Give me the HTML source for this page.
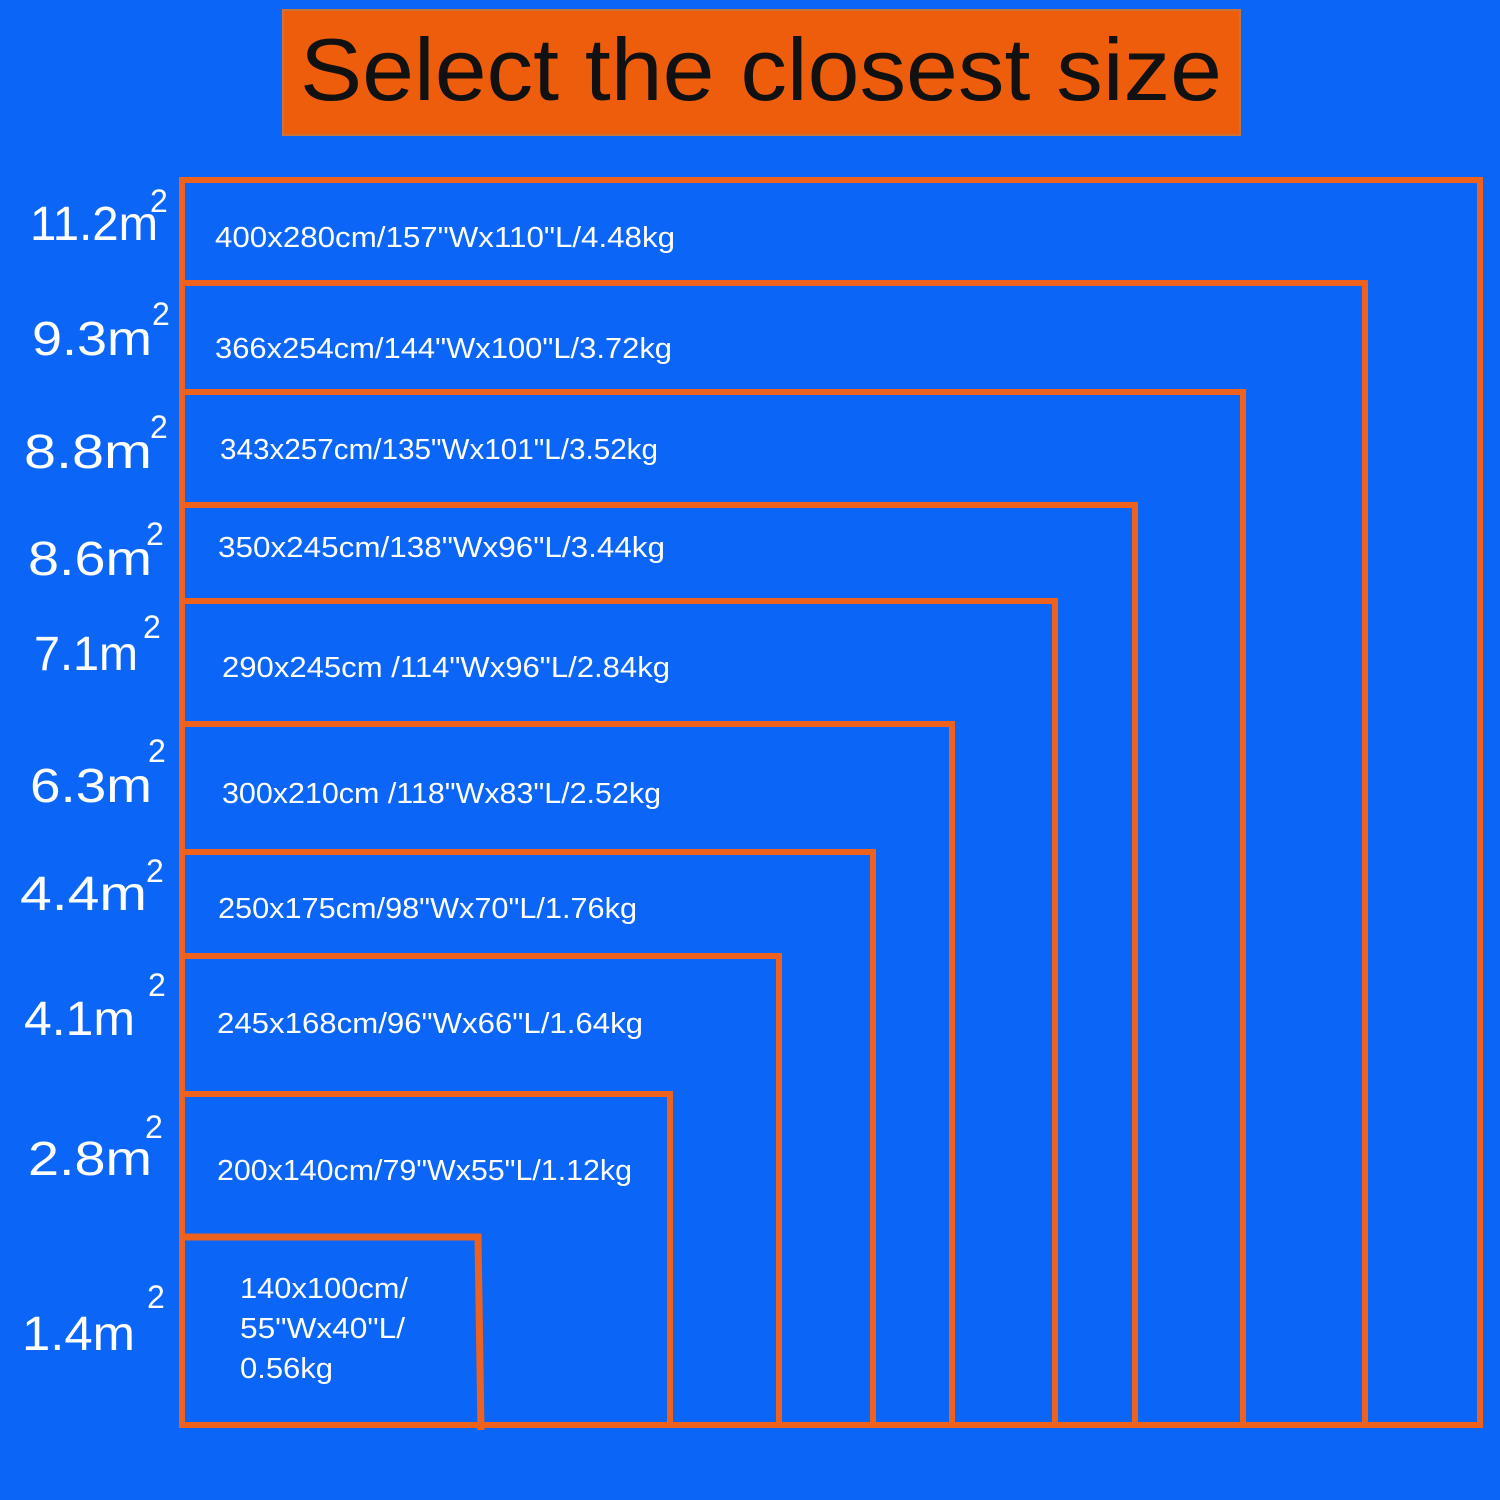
<!DOCTYPE html>
<html><head><style>
html,body{margin:0;padding:0;background:#0b66f7;}
svg{display:block}
text{font-family:"Liberation Sans",sans-serif;fill:#fff}
</style></head><body>
<svg width="1500" height="1500" viewBox="0 0 1500 1500">
<rect width="1500" height="1500" fill="#0b66f7"/>
<rect x="283" y="10" width="957" height="125" fill="#ee5d0c" stroke="#c8733a" stroke-width="2"/>
<text x="300" y="100" textLength="922" lengthAdjust="spacingAndGlyphs" font-size="88" style="fill:#111">Select the closest size</text>
<g fill="none" stroke="#ef621e" stroke-width="6">
<rect x="182" y="180" width="1298" height="1245"/>
<polyline points="182,283 1365,283 1365,1425"/>
<polyline points="182,392 1243,392 1243,1425"/>
<polyline points="182,505 1135,505 1135,1425"/>
<polyline points="182,601 1055,601 1055,1425"/>
<polyline points="182,724 952,724 952,1425"/>
<polyline points="182,852 873,852 873,1425"/>
<polyline points="182,956 779,956 779,1425"/>
<polyline points="182,1094 670,1094 670,1425"/>
<polyline points="182,1237 478,1237 481,1430" stroke-width="7"/>
</g>
<g font-size="29">
<text lengthAdjust="spacingAndGlyphs" x="215" y="247" textLength="460">400x280cm/157"Wx110"L/4.48kg</text>
<text lengthAdjust="spacingAndGlyphs" x="215" y="358" textLength="457">366x254cm/144"Wx100"L/3.72kg</text>
<text lengthAdjust="spacingAndGlyphs" x="220" y="459" textLength="438">343x257cm/135"Wx101"L/3.52kg</text>
<text lengthAdjust="spacingAndGlyphs" x="218" y="557" textLength="447">350x245cm/138"Wx96"L/3.44kg</text>
<text lengthAdjust="spacingAndGlyphs" x="222" y="677" textLength="448">290x245cm /114"Wx96"L/2.84kg</text>
<text lengthAdjust="spacingAndGlyphs" x="222" y="803" textLength="439">300x210cm /118"Wx83"L/2.52kg</text>
<text lengthAdjust="spacingAndGlyphs" x="218" y="918" textLength="419">250x175cm/98"Wx70"L/1.76kg</text>
<text lengthAdjust="spacingAndGlyphs" x="217" y="1033" textLength="426">245x168cm/96"Wx66"L/1.64kg</text>
<text lengthAdjust="spacingAndGlyphs" x="217" y="1180" textLength="415">200x140cm/79"Wx55"L/1.12kg</text>
<text lengthAdjust="spacingAndGlyphs" x="240" y="1298" textLength="168">140x100cm/</text>
<text lengthAdjust="spacingAndGlyphs" x="240" y="1338" textLength="165">55"Wx40"L/</text>
<text lengthAdjust="spacingAndGlyphs" x="240" y="1378" textLength="93">0.56kg</text>
</g>
<g font-size="48">
<text lengthAdjust="spacingAndGlyphs" x="30" y="240" textLength="128">11.2m</text><text x="150" y="212" font-size="32">2</text>
<text lengthAdjust="spacingAndGlyphs" x="32" y="355" textLength="120">9.3m</text><text x="152" y="325" font-size="32">2</text>
<text lengthAdjust="spacingAndGlyphs" x="24" y="468" textLength="128">8.8m</text><text x="150" y="438" font-size="32">2</text>
<text lengthAdjust="spacingAndGlyphs" x="28" y="575" textLength="124">8.6m</text><text x="146" y="545" font-size="32">2</text>
<text lengthAdjust="spacingAndGlyphs" x="34" y="670" textLength="104">7.1m</text><text x="143" y="638" font-size="32">2</text>
<text lengthAdjust="spacingAndGlyphs" x="30" y="802" textLength="122">6.3m</text><text x="148" y="762" font-size="32">2</text>
<text lengthAdjust="spacingAndGlyphs" x="20" y="910" textLength="127">4.4m</text><text x="146" y="882" font-size="32">2</text>
<text lengthAdjust="spacingAndGlyphs" x="24" y="1035" textLength="111">4.1m</text><text x="148" y="996" font-size="32">2</text>
<text lengthAdjust="spacingAndGlyphs" x="28" y="1175" textLength="124">2.8m</text><text x="145" y="1138" font-size="32">2</text>
<text lengthAdjust="spacingAndGlyphs" x="22" y="1350" textLength="113">1.4m</text><text x="147" y="1308" font-size="32">2</text>
</g>
</svg>
</body></html>
